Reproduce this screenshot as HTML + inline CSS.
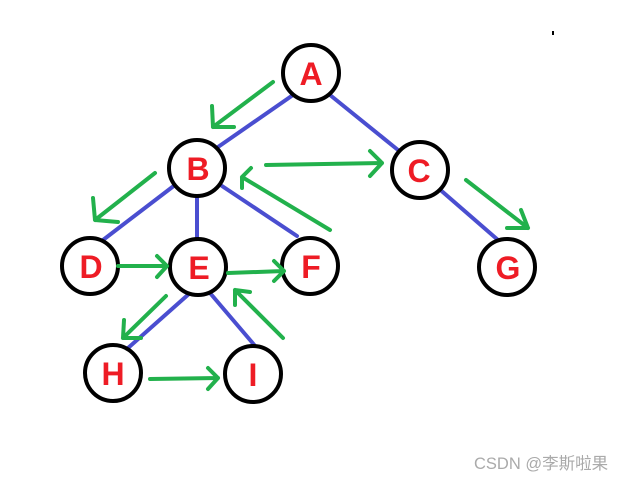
<!DOCTYPE html>
<html><head><meta charset="utf-8"><style>
html,body{margin:0;padding:0;background:#fff;width:626px;height:480px;overflow:hidden}
svg{display:block}
text.n{font-family:"Liberation Sans",sans-serif;font-weight:bold;font-size:32px;fill:#ee1c25;text-anchor:middle;dominant-baseline:central}
</style></head><body>
<svg width="626" height="480" viewBox="0 0 626 480">
<g stroke="#4a4ed0" stroke-width="4" stroke-linecap="round">
<line x1="293" y1="95" x2="218" y2="147"/>
<line x1="330" y1="95" x2="398" y2="150"/>
<line x1="175" y1="185" x2="103" y2="240"/>
<line x1="197" y1="196" x2="197" y2="240"/>
<line x1="222" y1="186" x2="297" y2="236"/>
<line x1="437" y1="187" x2="498" y2="240"/>
<line x1="190" y1="293" x2="128" y2="348"/>
<line x1="210" y1="293" x2="256" y2="347"/>
</g>
<g fill="#fff" stroke="#000" stroke-width="4">
<circle cx="311" cy="73" r="28"/>
<circle cx="197" cy="168" r="28"/>
<circle cx="420" cy="170" r="28"/>
<circle cx="90" cy="266" r="28"/>
<circle cx="198" cy="267" r="28"/>
<circle cx="310" cy="266" r="28"/>
<circle cx="507" cy="267" r="28"/>
<circle cx="113" cy="373" r="28"/>
<circle cx="253" cy="374" r="28"/>
</g>
<text class="n" x="311" y="74">A</text>
<text class="n" x="198" y="169">B</text>
<text class="n" x="419" y="171">C</text>
<text class="n" x="91" y="267">D</text>
<text class="n" x="199" y="268">E</text>
<text class="n" x="311" y="267">F</text>
<text class="n" x="508" y="268">G</text>
<text class="n" x="113" y="374">H</text>
<text class="n" x="253" y="375">I</text>
<g stroke="#22b14c" stroke-width="4" fill="none" stroke-linecap="round" stroke-linejoin="round">
<path d="M273 82 L213 127 M212 106 L213 127 L234 127"/>
<path d="M155 173 L95 220 M93 198 L95 220 L118 222"/>
<path d="M266 165 L382 163 M370 151 L382 163 L370 176"/>
<path d="M330 230 L242 177 M251 168 L242 177 L242 188"/>
<path d="M118 266 L167 266 M157 256 L167 266 L157 277"/>
<path d="M228 273 L284 271 M274 261 L284 271 L274 281"/>
<path d="M166 296 L123 338 M124 320 L123 338 L141 338"/>
<path d="M283 338 L235 290 M235 305 L235 290 L250 292"/>
<path d="M150 379 L218 378 M208 368 L218 378 L208 389"/>
<path d="M466 180 L528 228 M521 210 L528 228 L507 228"/>
</g>
<rect x="552" y="31" width="2" height="4" fill="#000"/>
<text x="474" y="469" font-family="Liberation Sans,'Noto Sans CJK SC',sans-serif" font-size="16.5" fill="#aaa">CSDN @李斯啦果</text>
</svg>
</body></html>
